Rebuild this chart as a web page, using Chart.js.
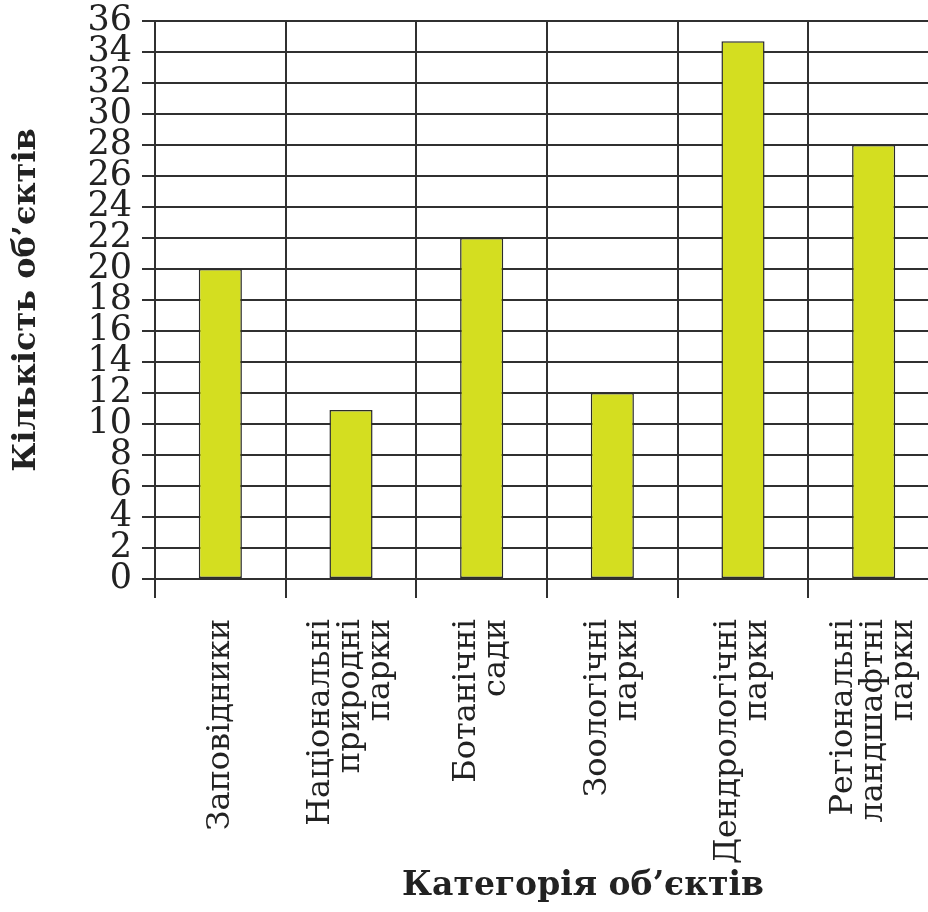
<!DOCTYPE html>
<html>
<head>
<meta charset="utf-8">
<script src="https://cdn.jsdelivr.net/npm/chart.js@4/dist/chart.umd.min.js"></script>
<style>
  html, body { margin: 0; padding: 0; background: #fff; overflow: hidden; }
  canvas { display: block; }
</style>
</head>
<body>
<canvas id="chart" width="939" height="912"></canvas>
<script>
// data
const categories = [
    ['Заповідники'],
    ['Національні', 'природні', 'парки'],
    ['Ботанічні', 'сади'],
    ['Зоологічні', 'парки'],
    ['Дендрологічні', 'парки'],
    ['Регіональні', 'ландшафтні', 'парки']
];
const counts = [20, 10.9, 22, 12, 34.7, 28];
const yMin = 0;
const yMax = 36;
const yStep = 2;
const yTitle = 'Кількість об’єктів';
const xTitle = 'Категорія об’єктів';

const lineColor = '#303030';
const serif = "'DejaVu Serif', serif";

// category labels are drawn rotated, lines centred on the category
const categoryLabels = {
    id: 'categoryLabels',
    afterDraw(chart) {
        const ctx = chart.ctx;
        const x = chart.scales.x;
        const area = chart.chartArea;
        const lh = 30;
        ctx.save();
        ctx.fillStyle = '#222';
        ctx.font = '32px ' + serif;
        ctx.textAlign = 'right';
        ctx.textBaseline = 'middle';
        categories.forEach((lines, i) => {
            const px = x.getPixelForValue(i);
            ctx.save();
            ctx.translate(px, area.bottom + 40);
            ctx.rotate(-Math.PI / 2);
            lines.forEach((line, j) => {
                ctx.fillText(line, 0, (j - (lines.length - 1) / 2) * lh);
            });
            ctx.restore();
        });
        // axis title under the labels
        ctx.font = 'bold 33px ' + serif;
        ctx.textAlign = 'center';
        ctx.textBaseline = 'middle';
        ctx.fillStyle = '#222';
        ctx.fillText(xTitle, 583, area.bottom + 307);
        ctx.restore();
    }
};

new Chart(document.getElementById('chart').getContext('2d'), {
    type: 'bar',
    data: {
        labels: categories.map(c => c.join(' ')),
        datasets: [{
            data: counts,
            backgroundColor: 'rgb(212, 222, 32)',
            borderColor: '#2b2b2b',
            borderWidth: 1.5,
            borderSkipped: false,
            categoryPercentage: 1,
            barPercentage: 0.33
        }]
    },
    options: {
        responsive: false,
        animation: false,
        layout: { padding: { top: 21, left: 0, right: 0, bottom: 0 } },
        plugins: {
            legend: { display: false },
            tooltip: { enabled: false }
        },
        scales: {
            x: {
                afterFit(scale) { scale.height = 333; },
                grid: {
                    offset: true,
                    color: lineColor,
                    lineWidth: 2,
                    tickLength: 19
                },
                border: { color: lineColor, width: 2 },
                ticks: { display: false }
            },
            y: {
                min: yMin,
                max: yMax,
                afterFit(scale) {
                    scale.width = 155;
                    scale.paddingTop = 0;
                    scale.paddingBottom = 0;
                },
                grid: {
                    color: lineColor,
                    lineWidth: 2,
                    tickLength: 13
                },
                border: { color: lineColor, width: 2 },
                ticks: {
                    stepSize: yStep,
                    autoSkip: false,
                    padding: 10,
                    color: '#222',
                    font: { family: serif, size: 35 }
                },
                title: {
                    display: true,
                    text: yTitle,
                    color: '#222',
                    padding: { top: 7, bottom: 0 },
                    font: { family: serif, size: 32, weight: 'bold' }
                }
            }
        }
    },
    plugins: [categoryLabels]
});
</script>
</body>
</html>
